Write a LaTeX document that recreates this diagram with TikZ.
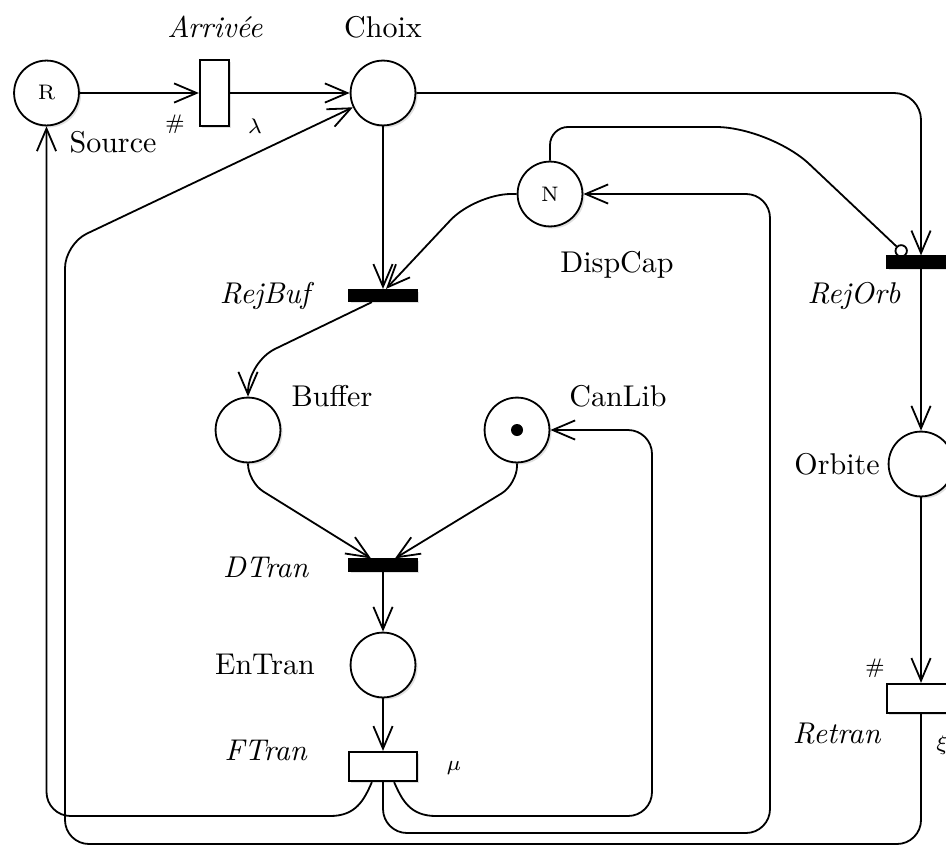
\documentclass[tikz,border=0pt]{standalone}
\usetikzlibrary{arrows.meta,shadows,calc}
\begin{document}
\begin{tikzpicture}[x=0.333pt,y=0.333pt,line width=0.6pt,
  arr/.style={-{Straight Barb[length=7.5pt,width=6.4pt,line width=0.6pt]}},
  inh/.style={-{Circle[open,length=4.4pt,width=4.4pt,line width=0.6pt]}},
  shd/.style={drop shadow={shadow xshift=0.7pt,shadow yshift=-0.7pt,opacity=0.12,fill=black}},
  place/.style={circle,draw,fill=white,minimum size=21.6pt,inner sep=0pt,shd},
  bar/.style={rectangle,draw,fill=black,minimum width=22.6pt,minimum height=3.8pt,inner sep=0pt,shd},
  hbox/.style={rectangle,draw,fill=white,minimum width=22.6pt,minimum height=9.8pt,inner sep=0pt,shd},
  vbox/.style={rectangle,draw,fill=white,minimum width=9.8pt,minimum height=21.8pt,inner sep=0pt,shd},
  lbl/.style={inner sep=0pt,font=\normalsize},
  sml/.style={inner sep=0pt,font=\scriptsize}]
\useasboundingbox (0,-847) rectangle (946,0);
\clip (0,-847) rectangle (946,0);

% places and transitions
\node[place,font=\scriptsize] (R) at (46.5,-93) {R};
\node[vbox] (Arr) at (214.5,-93) {};
\node[place] (Choix) at (383,-93) {};
\node[place,font=\scriptsize] (N) at (550,-194) {N};
\node[bar] (RejOrb) at (921,-262) {};
\node[bar] (RejBuf) at (383,-295.5) {};
\node[place] (Buffer) at (248,-430) {};
\node[place] (CanLib) at (517,-430) {};
\fill (CanLib) circle (2pt);
\node[bar] (DTran) at (383,-565) {};
\node[place] (EnTran) at (383,-665) {};
\node[hbox] (FTran) at (383,-766.5) {};
\node[place] (Orbite) at (921,-464) {};
\node[hbox] (Retran) at (921,-698.5) {};

% labels
\node[lbl] (lArr) at (215,-27) {\textit{Arrivée}};
\node[lbl] (lChoix) at (383,-27) {Choix};
\node[lbl] (lSource) at (113,-142) {Source};
\node[sml] (hashA) at (175,-124) {\#};
\node[sml] (lambda) at (255,-126) {$\lambda$};
\node[lbl] (lDisp) at (617,-265) {DispCap};
\node[lbl] (lRejOrb) at (854,-296) {\textit{RejOrb}};
\node[lbl] (lRejBuf) at (267,-296) {\textit{RejBuf}};
\node[lbl] (lBuffer) at (332,-396) {Buffer};
\node[lbl] (lCanLib) at (618,-396) {CanLib};
\node[lbl] (lDTran) at (266,-567) {\textit{DTran}};
\node[lbl] (lEnTran) at (265,-664) {EnTran};
\node[lbl] (lFTran) at (266,-750) {\textit{FTran}};
\node[sml] (mu) at (454,-768) {$\mu$};
\node[lbl] (lOrbite) at (837,-464) {Orbite};
\node[sml] (hashR) at (875,-668) {\#};
\node[lbl] (lRetran) at (837,-734) {\textit{Retran}};
\node[sml] (xi) at (942,-745) {$\xi$};

% arcs
\draw[arr] (R) -- (Arr);
\draw[arr] (Arr) -- (Choix);
\draw[arr,rounded corners=9pt] (Choix) -| (RejOrb);
\draw[arr] (Choix) -- (RejBuf);
\draw[inh] (N.north) [rounded corners=6pt] -- (550,-127) [rounded corners=18pt] -- (770,-127) -- ([xshift=-5pt]RejOrb.north);
\draw[arr,rounded corners=12pt] (N.west) -- (475,-194) -- ([xshift=1pt]RejBuf.north);
\draw[arr,rounded corners=10pt] ([xshift=-3.7pt]RejBuf.south) -- (248,-362) -- (Buffer.north);
\draw[arr,rounded corners=6pt] (Buffer.south) -- (248,-482) -- ([xshift=-4pt]DTran.north);
\draw[arr,rounded corners=6pt] (CanLib.south) -- (517,-484) -- ([xshift=4pt]DTran.north);
\draw[arr] (DTran) -- (EnTran);
\draw[arr] (EnTran) -- (FTran);
\draw[arr] (RejOrb) -- (Orbite);
\draw[arr] (Orbite) -- (Retran);
\draw[arr] ([xshift=-3.7pt]FTran.south) .. controls (364,-800) and (356,-816) .. (330,-816) [rounded corners=8pt] -- (46.5,-816) -- (R.south);
\draw[arr,rounded corners=8pt] (FTran.south) -- (383,-833) -- (770,-833) -- (770,-194) -- (N.east);
\draw[arr] ([xshift=3.7pt]FTran.south) .. controls (402,-800) and (410,-816) .. (436,-816) [rounded corners=8pt] -- (652,-816) -- (652,-430) -- (CanLib.east);
\draw[arr,rounded corners=8pt] (Retran.south) -- (921,-844) -- (65,-844) -- (65,-244) -- (Choix);
\end{tikzpicture}
\end{document}
